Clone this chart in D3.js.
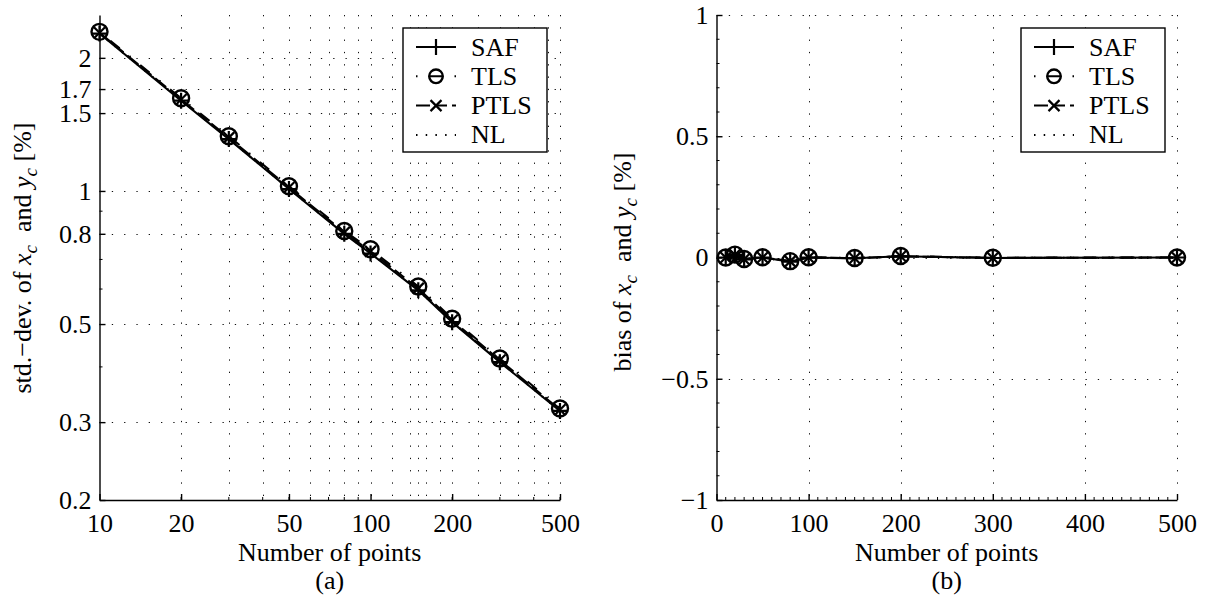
<!DOCTYPE html>
<html>
<head>
<meta charset="utf-8">
<script src="https://cdn.jsdelivr.net/npm/d3@7"></script>
<style>
html,body{margin:0;padding:0;background:#fff;}
svg{display:block;font-family:"Liberation Serif","Times New Roman",serif;}
text{white-space:pre;}
</style>
</head>
<body>
<svg id="chart" width="1209" height="599"></svg>
<script>
// ---------- data ----------
const nPoints = [10, 20, 30, 50, 80, 100, 150, 200, 300, 500];
const seriesNames = ["SAF", "TLS", "PTLS", "NL"];

const stdSAF  = [2.27, 1.600, 1.310, 1.010, 0.800, 0.722, 0.596, 0.505, 0.410, 0.318];
const stdTLS  = [2.29, 1.620, 1.330, 1.025, 0.812, 0.738, 0.608, 0.514, 0.418, 0.322];
const stdPTLS = [2.28, 1.610, 1.320, 1.018, 0.806, 0.730, 0.602, 0.510, 0.414, 0.320];
const stdNL   = [2.27, 1.605, 1.312, 1.012, 0.801, 0.724, 0.597, 0.506, 0.411, 0.318];

const biasSAF  = [0.000, 0.010, -0.008, 0.000, -0.017, 0.000, -0.003, 0.005, -0.002, 0.000];
const biasTLS  = [0.000, 0.012, -0.006, 0.001, -0.015, 0.001, -0.002, 0.006, -0.001, 0.000];
const biasPTLS = [0.000, 0.011, -0.007, 0.000, -0.016, 0.000, -0.003, 0.005, -0.002, 0.000];
const biasNL   = [0.000, 0.010, -0.008, 0.000, -0.017, 0.000, -0.003, 0.005, -0.002, 0.000];

const leftXTicks  = [10, 20, 50, 100, 200, 500];
const leftYTicks  = [0.2, 0.3, 0.5, 0.8, 1, 1.5, 1.7, 2];
const leftXGrid   = [20, 30, 40, 50, 60, 70, 80, 90, 100, 120, 140, 150, 160, 180, 200, 250, 300, 350, 400, 450, 500];
const leftYGrid   = [0.3, 0.5, 0.8, 1, 1.5, 1.7, 2];
const rightXTicks = [0, 100, 200, 300, 400, 500];
const rightYTicks = [-1, -0.5, 0, 0.5, 1];
const panelTags   = ["(a)", "(b)"];
const xTitle      = "Number of points";

// ---------- setup ----------
const svg = d3.select("#chart");
const FS = 26;
const styles = {
  SAF:  {dash: null,                 marker: "plus"},
  TLS:  {dash: "1.5,12.5,12,12.5",   marker: "circle"},
  PTLS: {dash: "14,5,12,5",          marker: "x"},
  NL:   {dash: "1.5,8.2",            marker: null}
};

function drawMarker(g, type, cx, cy, scale) {
  const s = scale || 1;
  if (type === "plus") {
    g.append("path").attr("d", `M${cx-8*s},${cy}H${cx+8*s}M${cx},${cy-8*s}V${cy+8*s}`)
      .attr("stroke", "#000").attr("stroke-width", 2.2).attr("fill", "none");
  } else if (type === "circle") {
    g.append("circle").attr("cx", cx).attr("cy", cy).attr("r", 8*s)
      .attr("stroke", "#000").attr("stroke-width", 2.4).attr("fill", "none");
  } else if (type === "x") {
    g.append("path").attr("d", `M${cx-5.5*s},${cy-5.5*s}L${cx+5.5*s},${cy+5.5*s}M${cx-5.5*s},${cy+5.5*s}L${cx+5.5*s},${cy-5.5*s}`)
      .attr("stroke", "#000").attr("stroke-width", 2.2).attr("fill", "none");
  }
}

function panel(opts) {
  const {x, y, xTicks, yTicks, xGrid, yGrid, xMinor, yMinor, data, yLabel, tag} = opts;
  const g = svg.append("g");
  const [x0, x1] = x.range();
  const [y0, y1] = y.range(); // y0 bottom, y1 top

  // grid
  const grid = g.append("g").attr("stroke", "#111").attr("stroke-width", 1).attr("stroke-dasharray", "1.3,11");
  xGrid.forEach(v => {
    const px = Math.round(x(v)) + 0.5;
    grid.append("line").attr("x1", px).attr("x2", px).attr("y1", y1).attr("y2", y0);
  });
  yGrid.forEach(v => {
    const py = Math.round(y(v)) + 0.5;
    grid.append("line").attr("x1", x0).attr("x2", x1).attr("y1", py).attr("y2", py);
  });

  // series
  const lineGen = d3.line().x(d => x(d[0])).y(d => y(d[1]));
  seriesNames.forEach((name, i) => {
    const pts = nPoints.map((n, j) => [n, data[i][j]]);
    const st = styles[name];
    g.append("path").attr("d", lineGen(pts)).attr("fill", "none").attr("stroke", "#000")
      .attr("stroke-width", 2.1).attr("stroke-dasharray", st.dash);
    if (st.marker) {
      const mg = g.append("g");
      pts.forEach(p => drawMarker(mg, st.marker, x(p[0]), y(p[1]), 1));
    }
  });

  // axes
  const xa = g.append("g").attr("transform", `translate(0,${y0})`)
    .call(d3.axisBottom(x).tickValues(xTicks).tickFormat(d3.format("")).tickSizeInner(-6).tickSizeOuter(0));
  const ya = g.append("g").attr("transform", `translate(${x0},0)`)
    .call(d3.axisLeft(y).tickValues(yTicks).tickFormat(d => d < 0 ? "\u2212" + Math.abs(d) : String(d)).tickSizeInner(-6).tickSizeOuter(0));
  [xa, ya].forEach(a => {
    a.attr("font-family", null);
    a.select(".domain").attr("stroke", "#000").attr("stroke-width", 1.4);
    a.selectAll(".tick line").attr("stroke", "#000").attr("stroke-width", 1.4);
    a.selectAll("text").attr("font-family", "Liberation Serif").attr("font-size", FS).attr("fill", "#000");
  });
  xa.selectAll("text").attr("y", 32).attr("dy", null);
  ya.selectAll("text").attr("x", -8).attr("dy", "0.32em");
  // minor ticks
  const mt = g.append("g").attr("stroke", "#000").attr("stroke-width", 1);
  xMinor.forEach(v => {
    const px = x(v);
    mt.append("line").attr("x1", px).attr("x2", px).attr("y1", y0).attr("y2", y0 - 3);
  });
  yMinor.forEach(v => {
    const py = y(v);
    mt.append("line").attr("x1", x0).attr("x2", x0 + 3).attr("y1", py).attr("y2", py);
  });

  // axis titles
  const cx = (x0 + x1) / 2;
  g.append("text").attr("x", cx).attr("y", 561).attr("text-anchor", "middle")
    .attr("font-size", FS).text(xTitle);
  g.append("text").attr("x", cx).attr("y", 589).attr("text-anchor", "middle")
    .attr("font-size", FS).text(tag);

  const yl = g.append("text").attr("transform", `translate(${yLabel.x},${yLabel.y}) rotate(-90)`)
    .attr("text-anchor", "middle").attr("font-size", FS);
  yl.append("tspan").text(yLabel.prefix);
  yl.append("tspan").attr("font-style", "italic").text("x");
  yl.append("tspan").attr("font-style", "italic").attr("font-size", 19).attr("dy", 6).text("c");
  yl.append("tspan").attr("dy", -6).text("  and ");
  yl.append("tspan").attr("font-style", "italic").text("y");
  yl.append("tspan").attr("font-style", "italic").attr("font-size", 19).attr("dy", 6).text("c");
  yl.append("tspan").attr("dy", -6).text(" [%]");

  // legend
  const L = opts.legend;
  const lg = g.append("g");
  lg.append("rect").attr("x", L.x).attr("y", 28).attr("width", 144).attr("height", 124)
    .attr("fill", "#fff").attr("stroke", "#000").attr("stroke-width", 1.4);
  seriesNames.forEach((name, i) => {
    const ly = 47 + i * 29.3;
    const st = styles[name];
    const lx0 = L.x + 13, lx1 = L.x + 53;
    lg.append("line").attr("x1", lx0).attr("x2", lx1).attr("y1", ly).attr("y2", ly)
      .attr("stroke", "#000").attr("stroke-width", 2).attr("stroke-dasharray", st.dash);
    if (st.marker) drawMarker(lg, st.marker, (lx0 + lx1) / 2, ly, st.marker === "circle" ? 0.85 : 1);
    lg.append("text").attr("x", L.x + 68).attr("y", ly + 8.5).attr("font-size", FS).text(name);
  });
}

// ---------- left panel ----------
const xL = d3.scaleLog().domain([10, 500]).range([99.5, 560]);
const yL = d3.scaleLog().domain([0.2, 2.5]).range([500, 15]);
const leftXMinor = [];
[10, 100].forEach(dec => { for (let k = 2; k <= 9; k++) { if (k * dec <= 500) leftXMinor.push(k * dec); } });
const leftYMinor = [0.4, 0.6, 0.7, 0.9];

panel({
  x: xL, y: yL, xTicks: leftXTicks, yTicks: leftYTicks, xGrid: leftXGrid, yGrid: leftYGrid,
  xMinor: leftXMinor, yMinor: leftYMinor,
  data: [stdSAF, stdTLS, stdPTLS, stdNL],
  yLabel: {x: 31, y: 258, prefix: "std.\u2212dev. of "},
  tag: panelTags[0],
  legend: {x: 403}
});

// ---------- right panel ----------
const xR = d3.scaleLinear().domain([0, 500]).range([716.5, 1177]);
const yR = d3.scaleLinear().domain([-1, 1]).range([500, 15]);
const rightXMinor = d3.range(10, 500, 10).filter(v => v % 100 !== 0);
const rightYMinor = d3.range(-0.9, 1, 0.1).map(v => +v.toFixed(1)).filter(v => Math.abs(v * 2 - Math.round(v * 2)) > 1e-6);

panel({
  x: xR, y: yR, xTicks: rightXTicks, yTicks: rightYTicks, xGrid: rightXTicks.slice(1), yGrid: rightYTicks.slice(1),
  xMinor: rightXMinor, yMinor: rightYMinor,
  data: [biasSAF, biasTLS, biasPTLS, biasNL],
  yLabel: {x: 631, y: 262, prefix: "bias of "},
  tag: panelTags[1],
  legend: {x: 1021}
});
</script>
</body>
</html>
